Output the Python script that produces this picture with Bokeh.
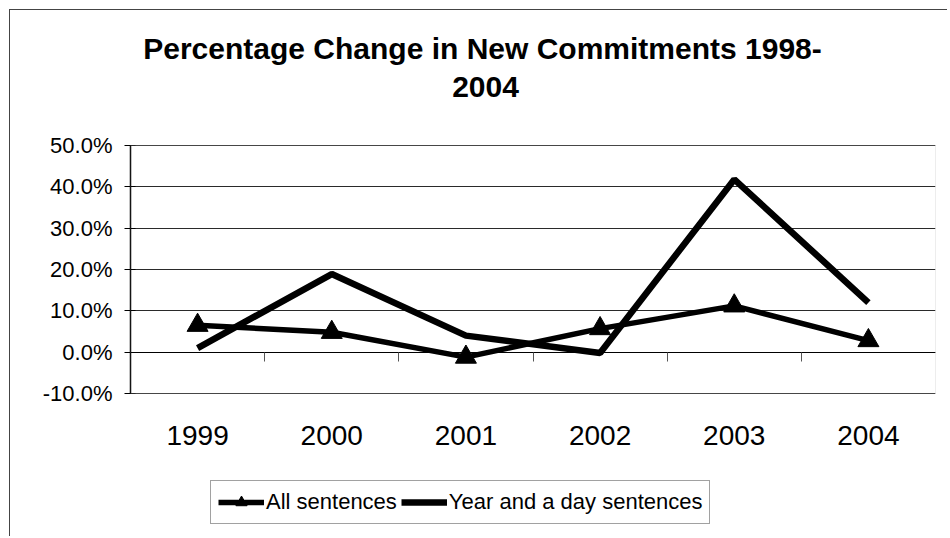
from bokeh.plotting import figure
from bokeh.models import (Range1d, FixedTicker, NumeralTickFormatter, LinearAxis,
                          Legend, LegendItem, ColumnDataSource, Grid, Label, BoxAnnotation)
from bokeh.embed import file_html
from bokeh.resources import INLINE

# ---- data ----
years = ["1999", "2000", "2001", "2002", "2003", "2004"]
all_sentences = [0.065, 0.048, -0.012, 0.057, 0.112, 0.028]
year_and_day = [0.010, 0.189, 0.040, -0.002, 0.418, 0.120]
y_ticks = [-0.1, 0.0, 0.1, 0.2, 0.3, 0.4, 0.5]
title_line1 = "Percentage Change in New Commitments 1998-"
title_line2 = "2004"
series_names = ["All sentences", "Year and a day sentences"]

FONT = "Liberation Sans"
W, H = 938, 527
BORDER_L, BORDER_R, BORDER_B = 120, 13, 7
FRAME_H = H - BORDER_B          # frame spans from the top of the figure
PLOT_TOP = 135                  # pixels from frame top to the 50% line
PLOT_H = 248                    # pixel height of the -10%..50% plot area

y_min, y_max = y_ticks[0], y_ticks[-1]
span = y_max - y_min
y_hi = y_max + span * PLOT_TOP / PLOT_H
y_lo = y_min - span * (FRAME_H - PLOT_TOP - PLOT_H) / PLOT_H

xs = list(range(len(years)))
src = ColumnDataSource(dict(x=xs, all=all_sentences, yad=year_and_day))
x_lo, x_hi = -0.5, len(years) - 0.5

p = figure(width=W, height=H, output_backend="svg", toolbar_location=None,
           x_range=Range1d(x_lo, x_hi), y_range=Range1d(y_lo, y_hi),
           min_border_left=BORDER_L, min_border_right=BORDER_R,
           min_border_top=0, min_border_bottom=BORDER_B,
           x_axis_location=None, y_axis_location=None)

# drop any default grids
p.center = [r for r in p.center if not isinstance(r, Grid)]

p.styles = {"border-left": "1px solid #444", "border-top": "1px solid #444",
            "margin-left": "9px", "margin-top": "9px"}
p.background_fill_color = "white"
p.border_fill_color = "white"
p.outline_line_color = None

# grid
grid = Grid(dimension=1, ticker=FixedTicker(ticks=y_ticks),
            grid_line_color="#2a2a2a", grid_line_width=1)
p.add_layout(grid)

# plot area border
p.add_layout(BoxAnnotation(left=x_lo, right=x_hi, bottom=y_min, top=y_max,
                           fill_color=None, line_color="#888888", line_width=1))

# y axis
yaxis = LinearAxis(ticker=FixedTicker(ticks=y_ticks), bounds=(y_min, y_max),
                   formatter=NumeralTickFormatter(format="0.0%"),
                   axis_line_color="black", axis_line_width=1.5,
                   major_tick_line_color="black", major_tick_out=6, major_tick_in=5,
                   minor_tick_line_color=None,
                   major_label_standoff=12,
                   major_label_text_font=FONT, major_label_text_font_size="22px",
                   major_label_text_color="black")
p.add_layout(yaxis, "left")

# x labels axis at the bottom of the plot area
xaxis = LinearAxis(fixed_location=y_min, ticker=FixedTicker(ticks=xs),
                   major_label_overrides={i: y for i, y in enumerate(years)},
                   axis_line_color=None, major_tick_line_color=None,
                   minor_tick_line_color=None,
                   major_tick_out=0, major_tick_in=0,
                   major_label_standoff=32,
                   major_label_text_font=FONT, major_label_text_font_size="28px",
                   major_label_text_color="black")
p.add_layout(xaxis, "below")

# category axis crossing at zero, ticks between categories
boundaries = [i + 0.5 for i in xs[:-1]]
zaxis = LinearAxis(fixed_location=0, ticker=FixedTicker(ticks=boundaries),
                   axis_line_color="black", axis_line_width=1.2,
                   major_tick_line_color="#555555", major_tick_out=9, major_tick_in=0,
                   minor_tick_line_color=None,
                   major_label_text_color=None, major_label_text_font_size="1px")
p.add_layout(zaxis, "below")

# title (two lines, as in the reference)
for txt, cx, by in [(title_line1, 352, 482), (title_line2, 355, 444)]:
    p.add_layout(Label(x=cx, y=by, x_units="screen", y_units="screen", text=txt,
                       text_align="center", text_baseline="alphabetic",
                       text_font=FONT, text_font_size="30px", text_font_style="bold",
                       text_color="black"))

# series
r_yad = p.line("x", "yad", source=src, line_color="black", line_width=6.5)
r_all_line = p.line("x", "all", source=src, line_color="black", line_width=5.5)
r_all_mark = p.scatter("x", "all", source=src, marker="triangle", size=21,
                       fill_color="black", line_color="black")

legend = Legend(items=[LegendItem(label=series_names[0], renderers=[r_all_line, r_all_mark]),
                       LegendItem(label=series_names[1], renderers=[r_yad])],
                location=(80, 6), orientation="horizontal",
                margin=0, padding=7, spacing=4, label_standoff=2,
                glyph_width=46, glyph_height=28,
                label_text_font=FONT, label_text_font_size="22px",
                label_text_color="black",
                border_line_color="#444444", border_line_width=1,
                background_fill_color="white", background_fill_alpha=1)
p.add_layout(legend, "center")

open("out.html", "w").write(file_html(p, INLINE))
